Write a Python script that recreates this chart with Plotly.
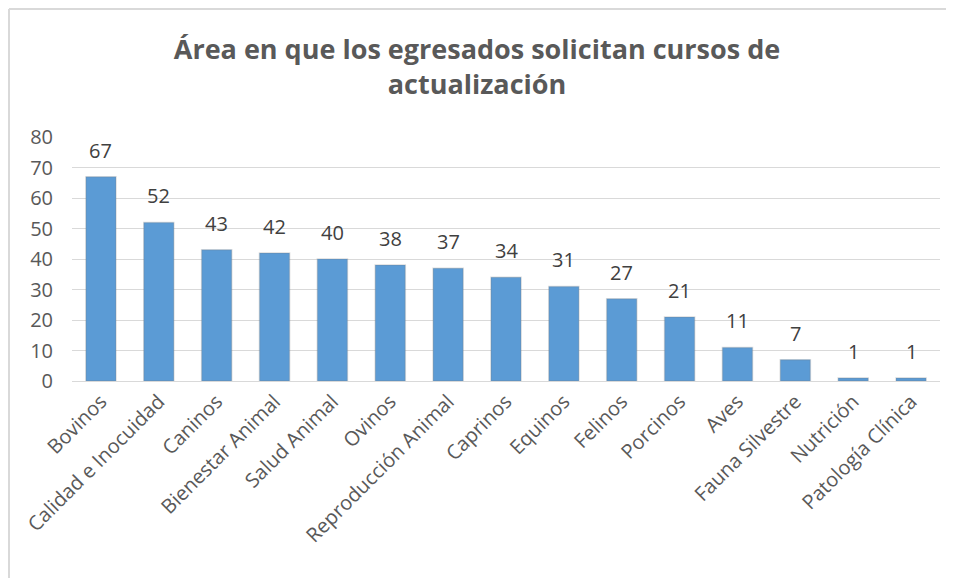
import plotly.graph_objects as go

areas = ["Bovinos", "Calidad e Inocuidad", "Caninos", "Bienestar Animal", "Salud Animal",
         "Ovinos", "Reproducción Animal", "Caprinos", "Equinos", "Felinos", "Porcinos",
         "Aves", "Fauna Silvestre", "Nutrición", "Patología Clínica"]
solicitudes = [67, 52, 43, 42, 40, 38, 37, 34, 31, 27, 21, 11, 7, 1, 1]
y_ticks = [0, 10, 20, 30, 40, 50, 60, 70, 80]

font_family = "Open Sans, Liberation Sans, sans-serif"

# la página tiene 8 px de margen en el body, se compensa en los márgenes
ML, MR, MT, MB = 64, 22, 129, 205
W, H = 954, 578
pw, ph = W - ML - MR, H - MT - MB

fig = go.Figure(go.Bar(
    x=areas,
    y=solicitudes,
    marker=dict(color="#5b9bd5", line=dict(color="rgba(120,120,120,0.25)", width=1.5)),
))

# etiquetas de datos (un poco separadas de la barra, como en Excel)
for a, v in zip(areas, solicitudes):
    fig.add_annotation(x=a, y=v, text=str(v), showarrow=False,
                       yanchor="bottom", yshift=11,
                       font=dict(size=20, color="#404040"))

fig.update_layout(
    width=W, height=H,
    paper_bgcolor="white", plot_bgcolor="white",
    font=dict(family=font_family, color="#595959"),
    title=dict(
        text="<b>Área en que los egresados solicitan cursos de<br>actualización</b>",
        x=469 / W, xref="container", xanchor="center",
        y=1 - 51 / H, yref="container", yanchor="middle",
        font=dict(size=27, color="#595959"),
    ),
    margin=dict(l=ML, r=MR, t=MT, b=MB, autoexpand=False),
    bargap=0.48,
    showlegend=False,
)

fig.update_xaxes(
    tickangle=-45, tickfont=dict(size=20, color="#595959"),
    showgrid=False, showline=True, linecolor="#d9d9d9", linewidth=1,
    ticks="", fixedrange=True, automargin=False,
)
fig.update_yaxes(
    range=[0, 80], tickvals=y_ticks,
    tickfont=dict(size=20, color="#595959"),
    showgrid=True, gridcolor="#d9d9d9", gridwidth=1,
    zeroline=False, showline=False, ticks="", ticklabelstandoff=18,
    automargin=False,
)

# borde del gráfico (solo se ven el lado superior e izquierdo)
top = (MT + ph - 1) / ph
left = (1 - ML) / pw
fig.add_shape(type="line", xref="paper", yref="paper",
              x0=left, x1=left, y0=-MB / ph, y1=top,
              line=dict(color="#d9d9d9", width=2), layer="below")
fig.add_shape(type="line", xref="paper", yref="paper",
              x0=left, x1=(W - ML) / pw, y0=top, y1=top,
              line=dict(color="#d9d9d9", width=2), layer="below")

fig.write_html("out.html")
